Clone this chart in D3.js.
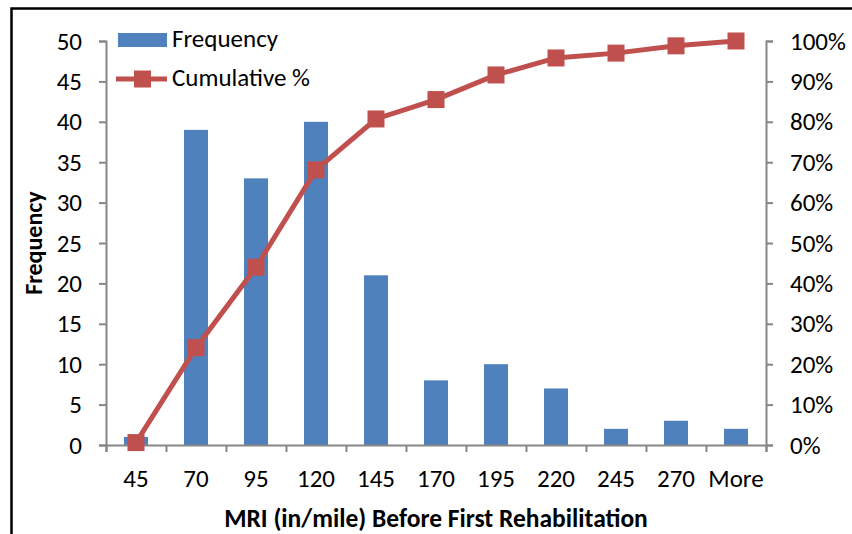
<!DOCTYPE html>
<html>
<head>
<meta charset="utf-8">
<script src="https://cdn.jsdelivr.net/npm/d3@7"></script>
<style>
  body { margin: 0; background: #fff; }
  svg text { font-family: Carlito, Lato, "Open Sans", sans-serif; fill: #000; }
</style>
</head>
<body>
<div id="chart"></div>
<script>
// bins and values
const bins = ["45", "70", "95", "120", "145", "170", "195", "220", "245", "270", "More"];
const frequency = [1, 39, 33, 40, 21, 8, 10, 7, 2, 3, 2];
const cumulative = [0.6, 24.1, 44.0, 68.1, 80.7, 85.5, 91.6, 95.8, 97.0, 98.8, 100];
const leftTicks = [0, 5, 10, 15, 20, 25, 30, 35, 40, 45, 50];
const rightTicks = [0, 10, 20, 30, 40, 50, 60, 70, 80, 90, 100];

const w = 852, h = 534;
const m = { left: 106, right: 86, top: 41, bottom: 89 };
const fs = "25px";

const svg = d3.select("#chart").append("svg").attr("width", w).attr("height", h);

// frame (left + top edges only, the rest is cropped off)
svg.append("path").attr("d", "M11.5," + h + "V8.5H" + w)
    .attr("fill", "none").attr("stroke", "#000").attr("stroke-width", 2.5);

const x = d3.scaleBand().domain(bins).range([m.left, w - m.right]).paddingInner(0.6).paddingOuter(0.3);
const yL = d3.scaleLinear().domain([0, 50]).range([h - m.bottom, m.top]);
const yR = d3.scaleLinear().domain([0, 100]).range([h - m.bottom, m.top]);

const axisColor = "#868686";

// bars
svg.append("g").selectAll("rect").data(frequency).enter().append("rect")
    .attr("x", (d, i) => x(bins[i]))
    .attr("y", d => yL(d))
    .attr("width", x.bandwidth())
    .attr("height", d => yL(0) - yL(d))
    .attr("fill", "#4F81BD");

// left axis
const gL = svg.append("g").attr("transform", "translate(" + m.left + ",0)")
    .call(d3.axisLeft(yL).tickValues(leftTicks).tickSizeOuter(0).tickSize(7).tickPadding(17));
// right axis
const gR = svg.append("g").attr("transform", "translate(" + (w - m.right) + ",0)")
    .call(d3.axisRight(yR).tickValues(rightTicks).tickFormat(d => d + "%").tickSizeOuter(0).tickSize(7).tickPadding(17));
// bottom axis, ticks on band boundaries
const bx = d3.scaleLinear().domain([0, bins.length]).range([m.left, w - m.right]);
const gB = svg.append("g").attr("transform", "translate(0," + (h - m.bottom) + ")")
    .call(d3.axisBottom(bx).tickValues(d3.range(bins.length + 1)).tickFormat("").tickSizeOuter(0).tickSize(7));
gB.append("g").selectAll("text").data(bins).enter().append("text")
    .attr("x", d => x(d) + x.bandwidth() / 2)
    .attr("y", 42)
    .attr("text-anchor", "middle")
    .style("font-size", fs)
    .text(d => d);

[gL, gR, gB].forEach(g => {
    g.attr("font-family", null).attr("font-size", null);
    g.select(".domain").attr("stroke", axisColor).attr("stroke-width", 2);
    g.selectAll(".tick line").attr("stroke", axisColor).attr("stroke-width", 2);
    g.selectAll(".tick text").style("font-size", fs).attr("fill", "#000");
});

// cumulative line
const line = d3.line().x((d, i) => x(bins[i]) + x.bandwidth() / 2).y(d => yR(d));
svg.append("path").datum(cumulative).attr("d", line)
    .attr("fill", "none").attr("stroke", "#C0504D").attr("stroke-width", 5);
svg.append("g").selectAll("rect").data(cumulative).enter().append("rect")
    .attr("x", (d, i) => x(bins[i]) + x.bandwidth() / 2 - 8.5)
    .attr("y", d => yR(d) - 8.5)
    .attr("width", 17).attr("height", 17)
    .attr("fill", "#C0504D");

// legend
const lg = svg.append("g");
lg.append("rect").attr("x", 118).attr("y", 33).attr("width", 49).attr("height", 14).attr("fill", "#4F81BD");
lg.append("text").attr("x", 172).attr("y", 47).style("font-size", fs).text("Frequency");
lg.append("line").attr("x1", 116).attr("x2", 167).attr("y1", 79).attr("y2", 79)
    .attr("stroke", "#C0504D").attr("stroke-width", 5);
lg.append("rect").attr("x", 134).attr("y", 70.5).attr("width", 17).attr("height", 17).attr("fill", "#C0504D");
lg.append("text").attr("x", 172).attr("y", 86).style("font-size", fs).text("Cumulative %");

// axis titles
svg.append("text").attr("transform", "translate(42,243) rotate(-90)")
    .attr("text-anchor", "middle").style("font-size", "24px").style("font-weight", "bold").text("Frequency");
svg.append("text").attr("x", 436).attr("y", 527)
    .attr("text-anchor", "middle").style("font-size", "25.5px").style("font-weight", "bold")
    .text("MRI (in/mile) Before First Rehabilitation");
</script>
</body>
</html>
